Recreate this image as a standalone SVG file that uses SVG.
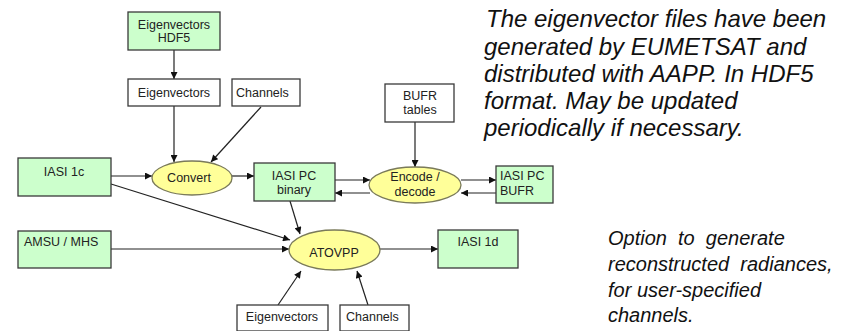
<svg xmlns="http://www.w3.org/2000/svg" width="859" height="331" viewBox="0 0 859 331">
  <defs>
    <marker id="arrow" viewBox="0 0 10 10" refX="10" refY="5" markerWidth="8" markerHeight="7" markerUnits="userSpaceOnUse" orient="auto">
      <path d="M0,0 L10,5 L0,10 z" fill="#111"/>
    </marker>
    <style>
      .file { fill: #ccffcc; stroke: #3a3a3a; stroke-width: 1.3; }
      .param { fill: #ffffff; stroke: #3a3a3a; stroke-width: 1.3; }
      .proc { fill: #ffff99; stroke: #7a7a5a; stroke-width: 1.3; }
      .lbl { font-family: "Liberation Sans", Arial, sans-serif; font-size: 12.5px; fill: #222; }
      .mid { text-anchor: middle; }
      .note { font-family: "Liberation Sans", Arial, sans-serif; font-style: italic; fill: #111; }
      .conn line { stroke: #222; stroke-width: 1.2; marker-end: url(#arrow); }
    </style>
  </defs>
  <rect width="859" height="331" fill="#ffffff"/>

  <!-- connectors -->
  <g id="connectors" class="conn">
    <line x1="174" y1="50" x2="174" y2="79"/>
    <line x1="174" y1="106" x2="174" y2="162"/>
    <line x1="261" y1="107" x2="211" y2="162"/>
    <line x1="111" y1="176" x2="152" y2="176"/>
    <line x1="232" y1="176" x2="254" y2="176"/>
    <line x1="335" y1="180" x2="370" y2="180"/>
    <line x1="370" y1="193" x2="335" y2="193"/>
    <line x1="461" y1="180" x2="496" y2="180"/>
    <line x1="496" y1="193" x2="461" y2="193"/>
    <line x1="415" y1="122" x2="415" y2="167"/>
    <line x1="111" y1="184" x2="290" y2="240"/>
    <line x1="290" y1="201" x2="300" y2="234"/>
    <line x1="111" y1="249" x2="289" y2="249"/>
    <line x1="380" y1="249" x2="438" y2="249"/>
    <line x1="278" y1="305" x2="301" y2="271"/>
    <line x1="368" y1="305" x2="357" y2="271"/>
  </g>

  <!-- file nodes -->
  <g id="eig-hdf5">
    <rect class="file" x="128" y="12" width="92" height="38"/>
    <text class="lbl mid" x="174" y="29">Eigenvectors</text>
    <text class="lbl mid" x="174" y="42">HDF5</text>
  </g>
  <g id="iasi-1c">
    <rect class="file" x="18" y="158" width="93" height="38"/>
    <text class="lbl mid" x="64" y="176">IASI 1c</text>
  </g>
  <g id="iasi-pc-binary">
    <rect class="file" x="254" y="163" width="81" height="38"/>
    <text class="lbl mid" x="294" y="180">IASI PC</text>
    <text class="lbl mid" x="294" y="194">binary</text>
  </g>
  <g id="iasi-pc-bufr">
    <rect class="file" x="496" y="166" width="57" height="37"/>
    <text class="lbl" x="500" y="180">IASI PC</text>
    <text class="lbl" x="500" y="195">BUFR</text>
  </g>
  <g id="amsu-mhs">
    <rect class="file" x="18" y="231" width="93" height="37"/>
    <text class="lbl" x="24" y="246">AMSU / MHS</text>
  </g>
  <g id="iasi-1d">
    <rect class="file" x="438" y="230" width="80" height="38"/>
    <text class="lbl mid" x="478" y="246">IASI 1d</text>
  </g>

  <!-- parameter nodes -->
  <g id="eigenvectors-top">
    <rect class="param" x="128" y="79" width="92" height="27"/>
    <text class="lbl mid" x="174" y="97">Eigenvectors</text>
  </g>
  <g id="channels-top">
    <rect class="param" x="232" y="79" width="68" height="27"/>
    <text class="lbl" x="236" y="97">Channels</text>
  </g>
  <g id="bufr-tables">
    <rect class="param" x="385" y="84" width="69" height="38"/>
    <text class="lbl mid" x="420" y="100">BUFR</text>
    <text class="lbl mid" x="420" y="114">tables</text>
  </g>
  <g id="eigenvectors-bottom">
    <rect class="param" x="237" y="305" width="91" height="26"/>
    <text class="lbl mid" x="282" y="321">Eigenvectors</text>
  </g>
  <g id="channels-bottom">
    <rect class="param" x="340" y="305" width="69" height="26"/>
    <text class="lbl" x="346" y="321">Channels</text>
  </g>

  <!-- processes -->
  <g id="convert">
    <ellipse class="proc" cx="192" cy="178" rx="40" ry="17"/>
    <text class="lbl mid" x="189" y="182">Convert</text>
  </g>
  <g id="encode-decode">
    <ellipse class="proc" cx="415" cy="185" rx="46" ry="18"/>
    <text class="lbl mid" x="415" y="181">Encode /</text>
    <text class="lbl mid" x="415" y="196">decode</text>
  </g>
  <g id="atovpp">
    <ellipse class="proc" cx="334.5" cy="250" rx="45.5" ry="20"/>
    <text class="lbl mid" x="334" y="257">ATOVPP</text>
  </g>

  <!-- notes -->
  <text class="note" font-size="24" x="486" y="27">The eigenvector files have been</text>
  <text class="note" font-size="24" x="484" y="54.5">generated by EUMETSAT and</text>
  <text class="note" font-size="24" x="484" y="82">distributed with AAPP. In HDF5</text>
  <text class="note" font-size="24" x="484" y="109">format. May be updated</text>
  <text class="note" font-size="24" x="484" y="136">periodically if necessary.</text>

  <text class="note" font-size="20" x="608" y="245" xml:space="preserve">Option  to  generate</text>
  <text class="note" font-size="20" x="608" y="271" xml:space="preserve">reconstructed  radiances,</text>
  <text class="note" font-size="20" x="608" y="297">for user-specified</text>
  <text class="note" font-size="20" x="608" y="322">channels.</text>
</svg>
